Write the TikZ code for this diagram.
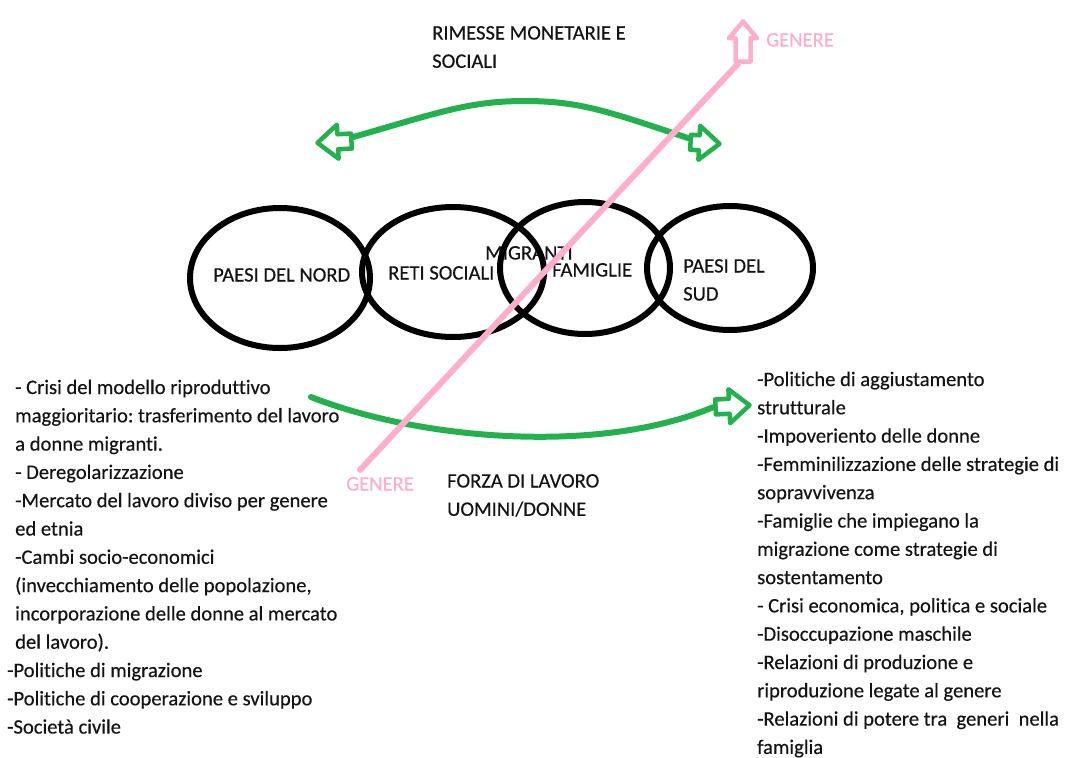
\documentclass[tikz,border=0pt]{standalone}
\usepackage{fontspec}
\setmainfont{Carlito}[Ligatures={NoCommon}, FakeBold=0.4]
\frenchspacing
\usetikzlibrary{shapes.arrows,calc}
\definecolor{paintgreen}{HTML}{22B14C}
\definecolor{paintpink}{HTML}{FFAEC9}
\definecolor{ink}{HTML}{141414}
\tikzset{
  ring/.style={line width=6pt},
  flow/.style={paintgreen, line width=6pt, line cap=round},
  genline/.style={paintpink, line width=6pt, line cap=round},
  hollowhead/.style={single arrow, draw=#1, fill=white, line width=4.5pt,
    inner xsep=0pt, inner ysep=5.25pt, single arrow head extend=9.5pt,
    single arrow tip angle=80, line join=round},
  lbl/.style={anchor=base west, inner sep=0pt, font=\fontsize{20.6}{24}\selectfont, text=ink},
  genlbl/.style={lbl, text=paintpink}
}

\begin{document}
\begin{tikzpicture}[x=1pt, y=-1pt]
  \useasboundingbox (0,0) rectangle (1072,758);

  % labels in the rings
  \node[lbl] (nordlbl) at (213,281.5) {PAESI DEL NORD};
  \node[lbl] (retilbl) at (388,279.5) {RETI SOCIALI};
  \node[lbl] (migrlbl) at (485,259.5) {MIGRANTI};
  \node[lbl] (famlbl)  at (552,276.5) {FAMIGLIE};
  \node[lbl] (sudlbl)  at (683,272.5) {PAESI DEL};
  \node[lbl] (sudlblb) at (683,300.5) {SUD};

  % the four rings
  \draw[ring] (280,278) ellipse (90 and 70);
  \draw[ring] (453,272) ellipse (91 and 65);
  \draw[ring] (585,268) ellipse (85 and 66);
  \draw[ring] (730,268) ellipse (83 and 62);

  % flow labels
  \node[lbl] (rimlbl)  at (432,39.5) {RIMESSE MONETARIE E};
  \node[lbl] (rimlblb) at (432,67.8) {SOCIALI};
  \node[lbl] (fzlbl)   at (447,487.5) {FORZA DI LAVORO};
  \node[lbl] (fzlblb)  at (447,515.8) {UOMINI/DONNE};

  % hollow arrow heads
  \node[hollowhead=paintgreen, minimum height=34pt, anchor=tip, rotate=183] (rimL) at (314,143) {};
  \node[hollowhead=paintgreen, minimum height=29pt, anchor=tip, rotate=-3] (rimR) at (723,144) {};
  \node[hollowhead=paintgreen, minimum height=34pt, anchor=tip, rotate=3] (fzA) at (753,405) {};
  \node[hollowhead=paintpink, minimum height=40pt, anchor=tip, rotate=90,
        single arrow head extend=6.5pt] (genA) at (743,18) {};

  % remittances and labour force
  \draw[flow] ($(rimL.tail)+(0,-4)$) .. controls (440,112) and (470,101) .. (525,101)
              .. controls (580,101) and (610,112) .. ($(rimR.tail)+(0,-4)$);
  \coordinate (fzS) at (311,397);
  \draw[flow] (fzS) .. controls (420,440) and (600,455) .. (fzA.tail);

  % gender axis
  \coordinate (genS) at (360,470);
  \draw[genline] (genS) -- ($(genA.tail)+(-5,0)$);
  \node[genlbl] (gentop) at (766,46.5) {GENERE};
  \node[genlbl] (genbot) at (346,490.5) {GENERE};

  % north side factors
  \foreach \x/\t [count=\i from 0] in {
      15/{- Crisi del modello riproduttivo},
      15/{maggioritario: trasferimento del lavoro},
      15/{a donne migranti.},
      15/{- Deregolarizzazione},
      15/{-Mercato del lavoro diviso per genere},
      15/{ed etnia},
      15/{-Cambi socio-economici},
      15/{(invecchiamento delle popolazione,},
      15/{incorporazione delle donne al mercato},
      15/{del lavoro).},
      7/{-Politiche di migrazione},
      7/{-Politiche di cooperazione e sviluppo},
      7/{-Società civile}}
    \node[lbl] (nord\i) at (\x, 394+28.3*\i) {\t};

  % south side factors
  \foreach \t [count=\i from 0] in {
      {-Politiche di aggiustamento},
      {strutturale},
      {-Impoveriento delle donne},
      {-Femminilizzazione delle strategie di},
      {sopravvivenza},
      {-Famiglie che impiegano la},
      {migrazione come strategie di},
      {sostentamento},
      {- Crisi economica, politica e sociale},
      {-Disoccupazione maschile},
      {-Relazioni di produzione e},
      {riproduzione legate al genere},
      {-Relazioni di potere tra\ \ generi\ \ nella},
      {famiglia}}
    \node[lbl] (sud\i) at (757, 386+28.3*\i) {\t};
\end{tikzpicture}
\end{document}
